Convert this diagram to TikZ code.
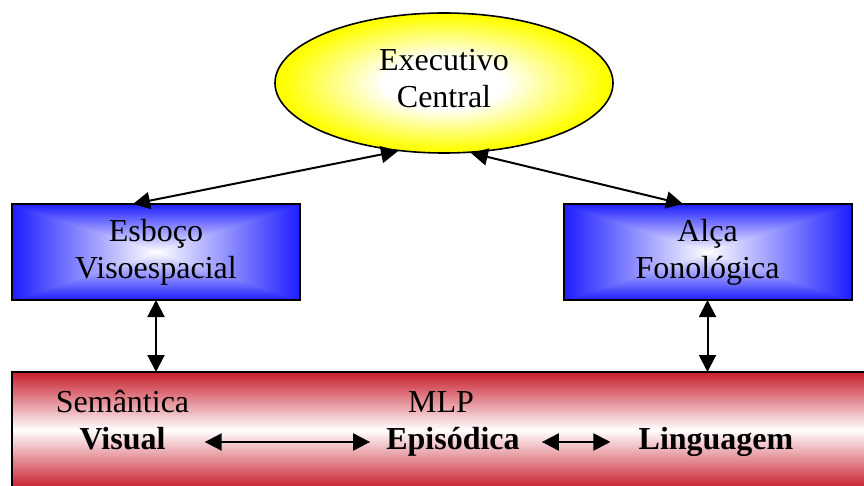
\documentclass[tikz,border=0pt]{standalone}
\usepackage{fontspec}
\setmainfont{Liberation Serif}
\usetikzlibrary{arrows.meta,shapes.geometric,backgrounds}

\definecolor{boxblue}{RGB}{30,30,255}
\definecolor{memred}{RGB}{200,30,45}
\definecolor{ceyellow}{RGB}{255,255,0}

% white centre fading to yellow at the rim of the ellipse
\pgfdeclareradialshading{execglow}{\pgfpoint{0bp}{0bp}}{%
  color(0bp)=(white); color(9bp)=(white); color(24bp)=(ceyellow); color(50bp)=(ceyellow)}

\begin{document}
\begin{tikzpicture}[x=1pt,y=-1pt,
  labeltext/.style={font=\fontsize{32}{37}\selectfont, align=center},
  compbox/.style={draw, line width=2pt, rectangle, outer sep=0pt, inner sep=0pt,
    minimum width=288pt, minimum height=96pt, labeltext},
  link/.style={line width=2pt,
    {Triangle[length=17pt,width=17pt]}-{Triangle[length=17pt,width=17pt]}},
  memtext/.style={font=\fontsize{32}{37}\selectfont, inner sep=0pt, anchor=base},
  memtextbf/.style={memtext, font=\fontsize{32}{37}\selectfont\bfseries}]
\useasboundingbox (0,0) rectangle (864,486);

% central executive
\node[ellipse, draw, line width=1.6pt, shading=execglow, minimum width=338pt,
  minimum height=140pt, inner sep=0pt, labeltext] (ec) at (444,83)
  {Executivo\\Central\rule[-10pt]{0pt}{10pt}};

% slave systems
\node[compbox] (vs) at (156,252) {Esboço\\Visoespacial};
\node[compbox] (af) at (707.5,252) {Alça\\Fonológica};

% long-term memory band
\node[draw, line width=2pt, outer sep=0pt, inner sep=0pt,
  minimum width=870pt, minimum height=116pt] (ml) at (447,430) {};

% rectangular gradients of the boxes and the band:
% vertical halves first, side triangles on top (same colour along the diagonals)
\begin{scope}[on background layer]
  \foreach \b in {vs,af}{
    \shade[top color=boxblue, bottom color=white] (\b.north west) rectangle (\b.east);
    \shade[top color=white, bottom color=boxblue] (\b.west) rectangle (\b.south east);
    \shade[left color=boxblue, right color=white]
      (\b.north west) -- (\b.south west) -- (\b.center) -- cycle;
    \shade[left color=white, right color=boxblue]
      (\b.north east) -- (\b.south east) -- (\b.center) -- cycle;
  }
  \shade[top color=memred, bottom color=white] (ml.north west) rectangle (ml.east);
  \shade[top color=white, bottom color=memred] (ml.west) rectangle (ml.south east);
\end{scope}

% texts in the band
\node[memtext] (sem) at (122.5,412) {Semântica};
\node[memtext] (mlp) at (441,412) {MLP};
\node[memtextbf] (vis) at (122.5,449) {Visual};
\node[memtextbf] (epi) at (453,449) {Episódica};
\node[memtextbf] (lin) at (716,449) {Linguagem};

% connectors
\draw[link] (ec.236) -- ([xshift=-23pt]vs.north);
\draw[link] (ec.291) -- ([xshift=-24.5pt]af.north);
\draw[link] (vs.south) -- (vs.south |- ml.north);
\draw[link] (af.south) -- (af.south |- ml.north);
\draw[link] ([xshift=39pt,yshift=7pt]vis.base east) -- ([xshift=-16pt,yshift=7pt]epi.base west);
\draw[link] ([xshift=22pt,yshift=7pt]epi.base east) -- ([xshift=-28pt,yshift=7pt]lin.base west);
\end{tikzpicture}
\end{document}
